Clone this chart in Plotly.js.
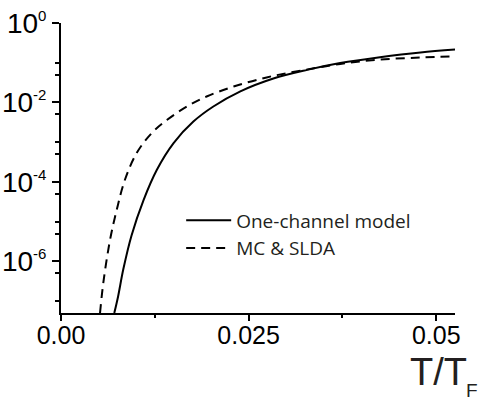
<!DOCTYPE html>
<html>
<head>
<meta charset="utf-8">
<script src="https://cdn.plot.ly/plotly-3.0.1.min.js"></script>
<style>html,body{margin:0;padding:0;background:#fff;}#chart{width:479px;height:401px;}</style>
</head>
<body>
<div id="chart"></div>
<script>
// One-channel model (solid)
var oneChannelT = [0.0071, 0.0076, 0.0083, 0.0094, 0.0110, 0.01276, 0.0150, 0.01764, 0.0203, 0.0239, 0.0283, 0.0328, 0.0372, 0.0425, 0.0479, 0.0525];
var oneChannelY = [5.0e-8, 1.29e-7, 6.3e-7, 4.5e-6, 3.5e-5, 2.0e-4, 9.5e-4, 3.3e-3, 7.9e-3, 0.019, 0.040, 0.066, 0.098, 0.138, 0.182, 0.214];
// MC & SLDA (dashed)
var mcSldaT = [0.0052, 0.00564, 0.0065, 0.00743, 0.00853, 0.0101, 0.0121, 0.0141, 0.01676, 0.0194, 0.0230, 0.0274, 0.0319, 0.0372, 0.0425, 0.0479, 0.0525];
var mcSldaY = [5.0e-8, 2.9e-7, 3.2e-6, 2.0e-5, 1.15e-4, 5.4e-4, 1.7e-3, 3.6e-3, 7.9e-3, 0.0141, 0.0251, 0.0427, 0.063, 0.093, 0.120, 0.135, 0.145];

var seriesNames = ["One-channel model", "MC & SLDA"];
var xTickVals = [0, 0.025, 0.05];
var xTickText = ["0.00", "0.025", "0.05"];
var xMinorVals = [0.0125, 0.0375];
var yTickVals = [1, 1e-2, 1e-4, 1e-6];
var yExponents = ["0", "-2", "-4", "-6"];
var yMinorVals = [0.1, 0.05, 0.005, 0.001, 0.0005, 0.00005, 1e-5, 5e-6, 5e-7, 1e-7];

var yTickText = yExponents.map(function (e) {
  return "10<sup><span style='font-size:15px'>" + e + "</span></sup>";
});

var traces = [
  {x: oneChannelT, y: oneChannelY, name: seriesNames[0], type: "scatter", mode: "lines",
   line: {color: "#000", width: 2, shape: "spline"}},
  {x: mcSldaT, y: mcSldaY, name: seriesNames[1], type: "scatter", mode: "lines",
   line: {color: "#000", width: 2, dash: "9px,6px", shape: "spline"}}
];

var layout = {
  width: 479, height: 401,
  margin: {l: 61, r: 24, t: 23, b: 88},
  paper_bgcolor: "#fff", plot_bgcolor: "#fff",
  font: {family: "Liberation Sans, Arial, sans-serif", color: "#000"},
  showlegend: true,
  legend: {x: 0.305, y: 0.385, xanchor: "left", yanchor: "top", bgcolor: "rgba(0,0,0,0)",
           itemwidth: 45,
           font: {family: "Open Sans, sans-serif", size: 19, color: "#231f20"}},
  xaxis: {
    range: [0, 0.0525], showline: true, linecolor: "#000", linewidth: 2,
    showgrid: false, zeroline: false,
    tickmode: "array", tickvals: xTickVals, ticktext: xTickText,
    ticks: "outside", ticklen: 6, tickwidth: 2, tickcolor: "#000",
    ticklabelstandoff: -7,
    tickfont: {size: 25, family: "Liberation Sans, Arial, sans-serif"},
    minor: {tickmode: "array", tickvals: xMinorVals, ticks: "outside", ticklen: 3, tickwidth: 2, tickcolor: "#000", showgrid: false}
  },
  yaxis: {
    type: "log", range: [-7.3, 0], showline: true, linecolor: "#000", linewidth: 2,
    showgrid: false, zeroline: false,
    tickmode: "array", tickvals: yTickVals, ticktext: yTickText,
    ticks: "outside", ticklen: 7, tickwidth: 2, tickcolor: "#000",
    tickfont: {size: 28, family: "Liberation Sans, Arial, sans-serif"},
    minor: {tickmode: "array", tickvals: yMinorVals, ticks: "outside", ticklen: 4, tickwidth: 2, tickcolor: "#000", showgrid: false}
  },
  annotations: [
    {text: "T/T", xref: "paper", yref: "paper", x: 0.883, y: -0.205, xanchor: "left", yanchor: "middle",
     borderpad: 0, showarrow: false, font: {size: 38, family: "Liberation Sans, Arial, sans-serif", color: "#231f20"}},
    {text: "F", xref: "paper", yref: "paper", x: 1.026, y: -0.268, xanchor: "left", yanchor: "middle",
     borderpad: 0, showarrow: false, font: {size: 19, family: "Liberation Sans, Arial, sans-serif", color: "#231f20"}}
  ]
};

Plotly.newPlot("chart", traces, layout, {displayModeBar: false, staticPlot: true});
</script>
</body>
</html>
